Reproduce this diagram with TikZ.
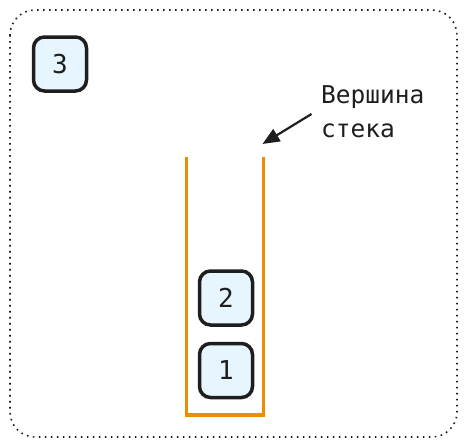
\documentclass[tikz,border=0pt]{standalone}
\usepackage{fontspec}
\setmainfont{DejaVu Sans Mono}
\usetikzlibrary{arrows.meta}
\definecolor{boxfill}{HTML}{E7F5FF}
\definecolor{stackor}{HTML}{F08C00}
\definecolor{ink}{HTML}{1E1E1E}
\tikzset{
  numbox/.style={draw=ink, line width=3.5pt, fill=boxfill, rounded corners=11pt,
    minimum width=53pt, minimum height=54pt, font=\fontsize{26}{28}\selectfont, text=ink, inner sep=0pt},
  stackline/.style={draw=stackor, line width=3.5pt},
  frame/.style={draw=ink, line width=1.6pt, dash pattern=on 1.6pt off 4.4pt, rounded corners=25pt},
  lbl/.style={font=\fontsize{24.5}{34}\selectfont, text=ink, align=left, inner sep=0pt}
}
\begin{document}
\begin{tikzpicture}[x=1pt,y=-1pt]
\useasboundingbox (0,0) rectangle (467,447);
\draw[frame] (10,10) rectangle (457,437);
\node[numbox] (n3) at (60,64) {3};
\node[numbox] (n2) at (226,298) {2};
\node[numbox] (n1) at (226,370.5) {1};
\coordinate (tl) at (186.5,157);
\coordinate (bl) at (186.5,415);
\coordinate (br) at (263.5,415);
\coordinate (tr) at (263.5,157);
\draw[stackline] (tl) -- (bl) -- (br) -- (tr);
\node[lbl, anchor=base west] (lab) at (321,137) {Вершина\\стека};
\coordinate (a1) at (311.5,114);
\coordinate (a2) at (262.5,144);
\draw[ink, line width=2.2pt, -{Triangle[length=17pt,width=14pt]}] (a1) -- (a2);
\end{tikzpicture}
\end{document}
